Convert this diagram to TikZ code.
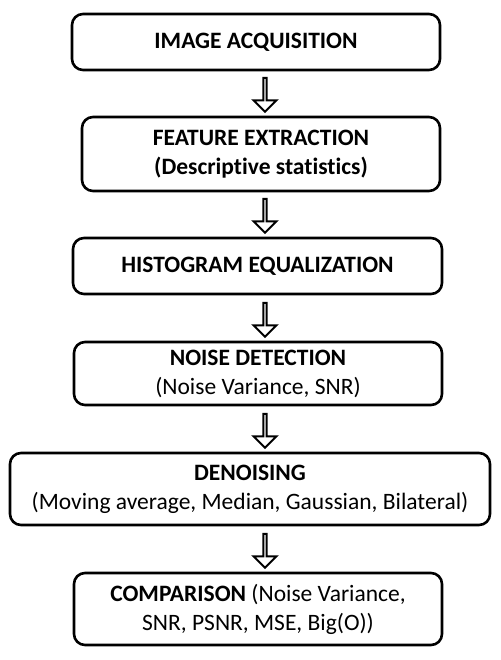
\documentclass[tikz,border=0pt]{standalone}
\usepackage{fontspec}
\setmainfont{Carlito}[Ligatures=CommonOff]
\usetikzlibrary{shapes.arrows}
\tikzset{
  stepbox/.style={draw=black, line width=2.6pt, rounded corners=11pt, align=center,
    inner sep=0pt, font=\fontsize{23.5}{29}\selectfont, text=black},
  downarrow/.style={draw=black, line width=2pt, single arrow, single arrow head extend=6.5pt,
    single arrow head indent=0pt, minimum height=34pt, minimum width=23pt, inner sep=0pt,
    shape border rotate=270, fill=white}
}
\begin{document}
\begin{tikzpicture}[x=1pt,y=-1pt]
\useasboundingbox (0,0) rectangle (500,660);
\node[stepbox, minimum width=368pt, minimum height=56pt] (b1) at (256,42) {\textbf{IMAGE ACQUISITION}};
\node[stepbox, minimum width=358pt, minimum height=74pt] (b2) at (261,154) {\textbf{FEATURE EXTRACTION}\\\textbf{(Descriptive statistics)}};
\node[stepbox, minimum width=369pt, minimum height=56pt] (b3) at (257.5,266) {\textbf{HISTOGRAM EQUALIZATION}};
\node[stepbox, minimum width=368pt, minimum height=63pt] (b4) at (258,373.5) {\textbf{NOISE DETECTION}\\(Noise Variance, SNR)};
\node[stepbox, minimum width=480pt, minimum height=72pt] (b5) at (250,489) {\textbf{DENOISING}\\(Moving average, Median, Gaussian, Bilateral)};
\node[stepbox, minimum width=368pt, minimum height=72pt] (b6) at (258,609) {\textbf{COMPARISON} (Noise Variance,\\SNR, PSNR, MSE, Big(O))};
\node[downarrow] (a1) at (265,94) {};
\node[downarrow] (a2) at (265,215) {};
\node[downarrow] (a3) at (265,319) {};
\node[downarrow] (a4) at (265,430) {};
\node[downarrow] (a5) at (265,550) {};
\end{tikzpicture}
\end{document}
